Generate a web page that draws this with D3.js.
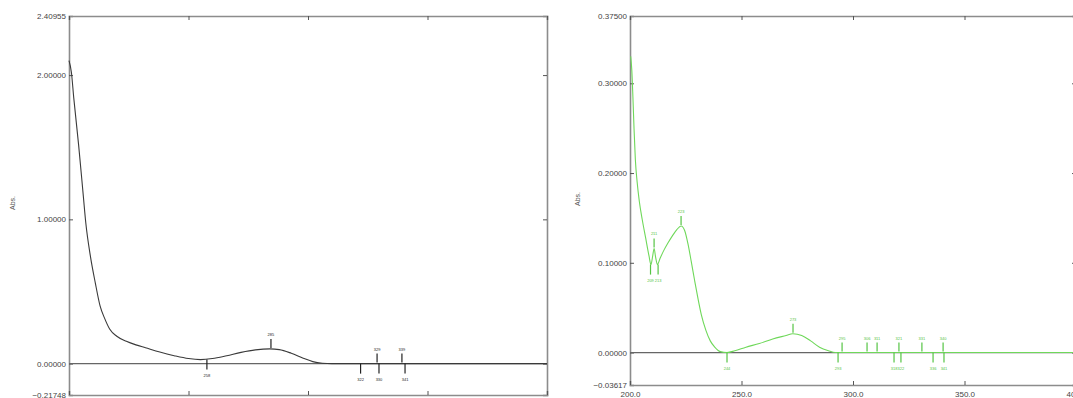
<!DOCTYPE html>
<html>
<head>
<meta charset="utf-8">
<script src="https://cdn.jsdelivr.net/npm/d3@7"></script>
<style>
  body { margin: 0; background: #fff; }
  svg { display: block; font-family: "Liberation Sans", Arial, sans-serif; }
</style>
</head>
<body>
<div id="chart"></div>
<script>
// left spectrum (black)
const waveA = [200, 201, 202, 204, 206, 207, 209, 211, 213, 215, 217, 220, 224, 228, 232, 238, 244, 250, 255, 260, 266, 272, 278, 284, 288, 293, 298, 302, 306, 310, 330, 360, 400];
const absA = [2.10, 2.02, 1.84, 1.52, 1.16, 0.98, 0.74, 0.56, 0.40, 0.31, 0.24, 0.19, 0.155, 0.13, 0.11, 0.08, 0.055, 0.035, 0.028, 0.035, 0.055, 0.078, 0.095, 0.102, 0.097, 0.072, 0.038, 0.014, 0.003, 0.0, 0.0, 0.0, 0.0];
const peaksA = [[284.5, 0.102], [328.9, 0.0], [339.3, 0.0]];
const valleysA = [[257.7, 0.028], [322.0, 0.0], [329.7, 0.0], [340.6, 0.0]];
const yTicksA = [-0.21748, 0, 1, 2, 2.40955];

// right spectrum (green)
const waveB = [200.3, 200.8, 201.3, 201.8, 202.4, 203.2, 204.2, 205.5, 207, 208.5, 209.4, 210.2, 210.8, 211.5, 212.3, 213.5, 215, 217, 219, 221, 222.9, 224.5, 226, 227.5, 229, 230.5, 232, 234, 236, 238, 240.5, 243.5, 247, 252, 258, 264, 270, 273, 277, 281, 285, 289, 292, 300, 320, 340, 360, 380, 400];
const absB = [0.330, 0.315, 0.285, 0.250, 0.215, 0.190, 0.168, 0.148, 0.128, 0.108, 0.098, 0.108, 0.116, 0.106, 0.098, 0.105, 0.113, 0.122, 0.130, 0.137, 0.141, 0.136, 0.121, 0.101, 0.080, 0.060, 0.042, 0.025, 0.013, 0.006, 0.001, 0.0, 0.002, 0.006, 0.010, 0.015, 0.019, 0.021, 0.019, 0.013, 0.006, 0.002, 0.0, 0.0, 0.0, 0.0, 0.0, 0.0, 0.0];
const peaksB = [[210.8, 0.116], [222.9, 0.141], [273.1, 0.021], [295.1, 0], [306.3, 0], [310.8, 0], [320.6, 0], [330.9, 0], [340.4, 0]];
const valleysB = [[209.2, 0.098], [212.6, 0.098], [243.5, 0.0], [293.3, 0], [318.4, 0], [321.5, 0], [335.9, 0], [340.8, 0]];
const yTicksB = [-0.03617, 0, 0.1, 0.2, 0.3, 0.375];

const xTicks = [200, 250, 300, 350, 400];

const svg = d3.select("#chart").append("svg").attr("width", 1073).attr("height", 398);

function drawPanel(p) {
  const g = svg.append("g");
  const x = d3.scaleLinear().domain([200, 400]).range(p.xRange);
  const y = d3.scaleLinear().domain(p.yDomain).range(p.yRange);
  const [x0, x1] = p.xRange;
  const [yb, yt] = p.yRange;

  // axes (inward ticks)
  const axes = [
    g.append("g").attr("transform", `translate(${x0},0)`)
      .call(d3.axisLeft(y).tickValues(p.yTicks).tickFormat(d3.format(".5f")).tickSize(-4).tickPadding(3)),
    g.append("g").attr("transform", `translate(${x1},0)`)
      .call(d3.axisRight(y).tickValues(p.yTicks).tickFormat("").tickSize(-4)),
    g.append("g").attr("transform", `translate(0,${yb})`)
      .call(d3.axisBottom(x).tickValues(xTicks)
        .tickFormat(p.xLabels ? d3.format(".1f") : "").tickSize(-4).tickPadding(6)),
    g.append("g").attr("transform", `translate(0,${yt})`)
      .call(d3.axisTop(x).tickValues(xTicks).tickFormat("").tickSize(-4)),
  ];
  axes.forEach((a) => {
    a.select(".domain").attr("stroke", "#8c8c8c").attr("stroke-width", 1.6);
    a.selectAll(".tick line").attr("stroke", "#555");
    a.selectAll(".tick text").attr("fill", "#444").style("font-size", "8px");
  });

  // zero line
  g.append("line")
    .attr("x1", x0).attr("x2", x1)
    .attr("y1", y(0)).attr("y2", y(0))
    .attr("stroke", "#666").attr("stroke-width", 1.3);

  g.append("text")
    .attr("transform", `translate(${p.labelX},${p.labelY}) rotate(-90)`)
    .attr("text-anchor", "middle")
    .attr("fill", "#555")
    .style("font-size", "7px")
    .text("Abs.");

  const line = d3.line()
    .x((d) => x(d[0]))
    .y((d) => y(d[1]))
    .curve(d3.curveMonotoneX);

  g.append("path")
    .datum(d3.zip(p.wave, p.abs))
    .attr("fill", "none")
    .attr("stroke", p.color)
    .attr("stroke-width", 1.1)
    .attr("d", line);

  // peak / valley markers
  p.peaks.forEach(([w, v]) => {
    g.append("line")
      .attr("x1", x(w)).attr("x2", x(w))
      .attr("y1", y(v) - 1).attr("y2", y(v) - 10)
      .attr("stroke", p.markColor).attr("stroke-width", 1.2);
    g.append("text")
      .attr("x", x(w)).attr("y", y(v) - 13)
      .attr("text-anchor", "middle")
      .attr("fill", p.markColor)
      .style("font-size", "4px")
      .text(Math.round(w));
  });
  p.valleys.forEach(([w, v]) => {
    g.append("line")
      .attr("x1", x(w)).attr("x2", x(w))
      .attr("y1", y(v)).attr("y2", y(v) + 10)
      .attr("stroke", p.markColor).attr("stroke-width", 1.2);
    g.append("text")
      .attr("x", x(w)).attr("y", y(v) + 17)
      .attr("text-anchor", "middle")
      .attr("fill", p.markColor)
      .style("font-size", "4px")
      .text(Math.round(w));
  });
}

drawPanel({
  xRange: [69, 547], yRange: [395, 16],
  yDomain: [yTicksA[0], yTicksA[yTicksA.length - 1]], yTicks: yTicksA,
  wave: waveA, abs: absA, peaks: peaksA, valleys: valleysA, xLabels: false,
  color: "#3a3a3a", markColor: "#222", labelX: 15, labelY: 203,
});

drawPanel({
  xRange: [630, 1076], yRange: [385, 16],
  yDomain: [yTicksB[0], yTicksB[yTicksB.length - 1]], yTicks: yTicksB,
  wave: waveB, abs: absB, peaks: peaksB, valleys: valleysB, xLabels: true,
  color: "#6fd85a", markColor: "#55c444", labelX: 580, labelY: 199,
});
</script>
</body>
</html>
